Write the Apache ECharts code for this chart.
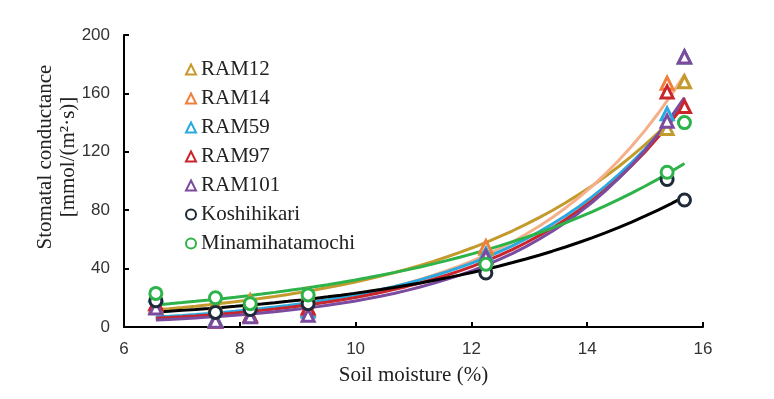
<!DOCTYPE html>
<html>
<head>
<meta charset="utf-8">
<script src="https://cdn.jsdelivr.net/npm/echarts@6/dist/echarts.min.js"></script>
<style>
  html, body { margin: 0; padding: 0; background: #fff; }
  #main { width: 774px; height: 399px; }
</style>
</head>
<body>
<div id="main"></div>
<script>
// soil moisture (%) of each sampling
var soilMoisture = [6.55, 7.58, 8.18, 9.18, 12.25, 15.38, 15.68];

// stomatal conductance, mmol/(m2 s)
var ram12 = [14, 15, 18, 22, 54, 136, 168];
var ram14 = [16, 5, 8, 12, 55, 167, 185];
var ram59 = [22, 5, 8, 11, 50, 146, 185];
var ram97 = [16, 4, 8, 13, 48, 161, 151];
var ram101 = [13, 4, 7, 8, 48, 141, 185];
var koshihikari = [18, 10, 12, 16, 37, 101, 87];
var minamihatamochi = [23, 20, 16, 22, 43, 106, 140];

var names = ['RAM12', 'RAM14', 'RAM59', 'RAM97', 'RAM101', 'Koshihikari', 'Minamihatamochi'];
var values = [ram12, ram14, ram59, ram97, ram101, koshihikari, minamihatamochi];
var colors = ['#c49a2c', '#f07f3c', '#2aa9e0', '#c8262c', '#7b4ba0', '#1e2a38', '#2db34a'];
var lineColors = ['#c49a2c', '#f5b08a', '#2aa9e0', '#c8262c', '#7b4ba0', '#000000', '#2db34a'];
var symbols = ['triangle', 'triangle', 'triangle', 'triangle', 'triangle', 'circle', 'circle'];

// exponential trendline (least squares on ln y), like a spreadsheet trendline
function expTrend(xs, ys) {
    var n = xs.length, mx = 0, my = 0;
    for (var i = 0; i < n; i++) { mx += xs[i]; my += Math.log(ys[i]); }
    mx /= n; my /= n;
    var sxy = 0, sxx = 0;
    for (var i = 0; i < n; i++) {
        sxy += (xs[i] - mx) * (Math.log(ys[i]) - my);
        sxx += (xs[i] - mx) * (xs[i] - mx);
    }
    var b = sxy / sxx;
    var lo = Math.min.apply(null, xs), hi = Math.max.apply(null, xs);
    var pts = [];
    for (var k = 0; k <= 40; k++) {
        var x = lo + (hi - lo) * k / 40;
        pts.push([x, Math.exp(my + b * (x - mx))]);
    }
    return pts;
}

var series = [];
names.forEach(function (name, idx) {
    series.push({
        name: name,
        type: 'scatter',
        symbol: symbols[idx],
        symbolSize: 12,
        z: 3,
        itemStyle: { color: '#fff', borderColor: colors[idx], borderWidth: 3, opacity: 1 },
        data: soilMoisture.map(function (x, i) { return [x, values[idx][i]]; })
    });
});
names.forEach(function (name, idx) {
    series.push({
        name: name + ' trend',
        type: 'line',
        showSymbol: false,
        silent: true,
        z: 2,
        lineStyle: { color: lineColors[idx], width: 3 },
        data: expTrend(soilMoisture, values[idx])
    });
});

var myChart = echarts.init(document.getElementById('main'));
var option = {
    animation: false,
    grid: { left: 124, right: 71, top: 35, bottom: 72 },
    legend: {
        data: names,
        orient: 'vertical',
        left: 180,
        top: 54,
        itemWidth: 10,
        itemHeight: 10,
        itemGap: 8,
        textStyle: { fontFamily: 'Liberation Serif', fontSize: 21, color: '#222' }
    },
    xAxis: {
        type: 'value',
        min: 6, max: 16, interval: 2,
        name: 'Soil moisture (%)',
        nameLocation: 'middle',
        nameGap: 38,
        nameTextStyle: { fontFamily: 'Liberation Serif', fontSize: 21, color: '#222' },
        axisLine: { lineStyle: { color: '#000', width: 2 } },
        axisTick: { inside: true, length: 5, lineStyle: { color: '#000', width: 2 } },
        axisLabel: { fontFamily: 'Liberation Sans', fontSize: 17, color: '#333', margin: 14 },
        splitLine: { show: false }
    },
    yAxis: {
        type: 'value',
        min: 0, max: 200, interval: 40,
        name: 'Stomatal conductance\n[mmol/(m²·s)]',
        nameLocation: 'middle',
        nameGap: 44,
        nameMoveOverlap: false,
        nameTextStyle: { fontFamily: 'Liberation Serif', fontSize: 21, color: '#222', lineHeight: 23, padding: [0, 0, 0, 48] },
        axisLine: { lineStyle: { color: '#000', width: 2 } },
        axisTick: { inside: true, length: 5, lineStyle: { color: '#000', width: 2 } },
        axisLabel: { fontFamily: 'Liberation Sans', fontSize: 17, color: '#333', margin: 14 },
        splitLine: { show: false }
    },
    series: series
};
myChart.setOption(option);
</script>
</body>
</html>
